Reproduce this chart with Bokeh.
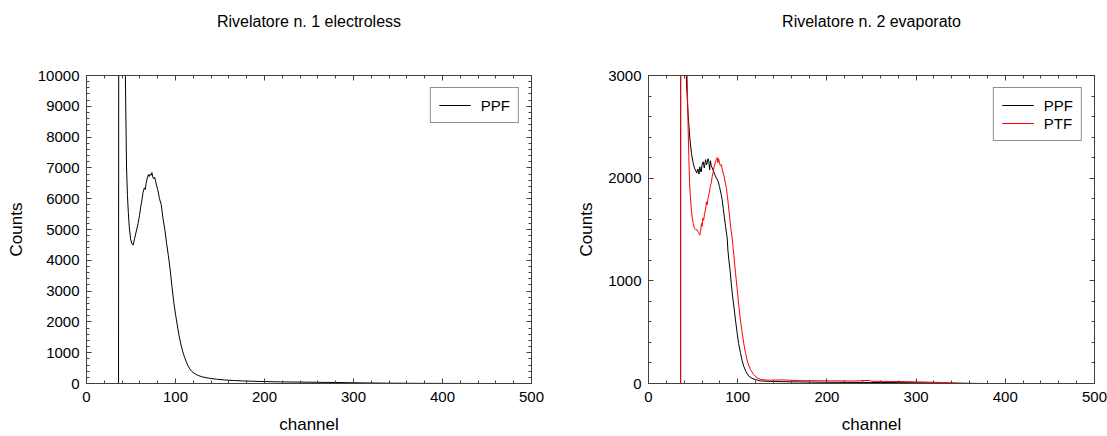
from bokeh.plotting import figure
from bokeh.models import (Range1d, LinearAxis, SingleIntervalTicker, Legend,
                          LegendItem, CustomJSTickFormatter)
from bokeh.layouts import row
from bokeh.embed import file_html
from bokeh.resources import INLINE

# ---------------- data ----------------
# Rivelatore n. 1 electroless - PPF
ch1_ppf = [0, 36, 36.5, 43, 44, 45, 46, 47, 48, 49.5, 51, 52.5, 54, 56, 58, 59.5,
           61, 62, 63.5, 65, 66, 67, 68.5, 69.5, 70.5, 71.5, 72.5, 73.5, 74.5,
           75.5, 76.5, 77.5, 78.5, 80, 82, 84, 86, 88, 90, 92, 94, 96, 98, 100,
           102, 104, 106, 108, 110, 112, 114, 116, 118, 121, 125, 130, 138, 146,
           155, 165, 175, 185, 200, 218, 240, 258, 280, 297, 320, 337, 360, 376,
           400, 420, 450, 500]
cnt1_ppf = [0, 0, 30000, 12000, 9200, 7000, 6100, 5550, 5100, 4700, 4530, 4500,
            4700, 4950, 5200, 5450, 5750, 5900, 6200, 6350, 6300, 6500, 6700,
            6780, 6720, 6800, 6760, 6850, 6700, 6650, 6700, 6600, 6450, 6300,
            6000, 5800, 5350, 5000, 4550, 4150, 3700, 3150, 2650, 2250, 1900,
            1550, 1280, 1050, 870, 710, 580, 475, 400, 330, 265, 215, 170, 140,
            115, 97, 85, 75, 62, 52, 45, 40, 32, 25, 16, 11, 7, 5, 3, 2, 1, 0]

# Rivelatore n. 2 evaporato - PPF
ch2_ppf = [0, 36, 36.5, 42, 43, 44.5, 46.3, 48.2, 50, 51.5, 52.7, 54, 55.3, 56.5,
           57.6, 58.5, 59.1, 60, 61.3, 62.5, 64, 65, 65.8, 66.7, 67.7, 68.5, 69.5,
           70.3, 71.5, 73.3, 74.5, 76.3, 78, 79.5, 81.5, 82.6, 83.8, 85, 86.4,
           88.3, 89, 90, 91.5, 92.7, 94, 95.7, 97.5, 99.4, 101, 103.1, 105, 106.8,
           109, 112.4, 116, 120, 125.5, 137, 169, 200, 249, 290, 328, 350, 380, 500]
cnt2_ppf = [0, 0, 20000, 3100, 2850, 2610, 2390, 2240, 2150, 2100, 2080, 2050,
            2090, 2040, 2110, 2070, 2060, 2130, 2160, 2100, 2180, 2130, 2150, 2190,
            2160, 2080, 2170, 2120, 2100, 2060, 2030, 2000, 1970, 1920, 1840, 1790,
            1705, 1620, 1530, 1410, 1300, 1210, 1100, 980, 870, 750, 620, 490, 390,
            300, 220, 168, 120, 72, 50, 38, 25, 20, 15, 12, 10, 8, 5, 2, 0, 0]

# Rivelatore n. 2 evaporato - PTF
ch2_ptf = [0, 36, 36.2, 42.5, 43.3, 44.5, 45.2, 46, 47.1, 48, 49, 50.2, 51.6, 53,
           54.6, 56, 57.5, 58.5, 59.4, 60.1, 60.9, 61.8, 62.8, 64, 65, 65.8, 66.9,
           68, 69.5, 70.5, 71.5, 72.5, 73.5, 75.1, 76, 77, 77.8, 78.6, 79.6, 80.5,
           81.8, 83, 84.4, 86, 87.4, 88.5, 90, 91.5, 92.7, 93.8, 95.7, 97.5, 99.4,
           101.2, 103, 105, 106.8, 108.7, 111, 114.3, 118, 121.9, 126, 133, 150,
           170, 200, 230, 248, 250, 270, 288, 310, 328, 348, 360, 500]
cnt2_ptf = [0, 0, 20000, 3200, 3000, 2450, 2220, 1950, 1800, 1700, 1610, 1560,
            1510, 1500, 1495, 1470, 1445, 1490, 1560, 1530, 1610, 1590, 1650, 1700,
            1770, 1740, 1810, 1850, 1930, 1960, 2020, 2060, 2110, 2160, 2180, 2200,
            2150, 2190, 2150, 2120, 2130, 2070, 2030, 1960, 1900, 1820, 1700, 1580,
            1480, 1420, 1250, 1080, 920, 760, 620, 495, 390, 300, 210, 136, 85, 55,
            40, 32, 35, 28, 26, 24, 30, 22, 20, 18, 14, 10, 3, 0, 0]

titles = ["Rivelatore n. 1 electroless", "Rivelatore n. 2 evaporato"]
x_label = "channel"
y_label = "Counts"
x_max = 500
y_max = [10000, 3000]

FONT = "Liberation Sans"
FRAME = "#404040"


def style_ticks(ax):
    ax.axis_line_color = FRAME
    ax.major_tick_line_color = FRAME
    ax.minor_tick_line_color = FRAME
    ax.major_tick_in = 5
    ax.major_tick_out = 0
    ax.minor_tick_in = 3
    ax.minor_tick_out = 0


def make_fig(title, width, ymax, border_left, border_right):
    p = figure(width=width, height=436, output_backend="svg",
               toolbar_location=None, x_range=Range1d(0, x_max),
               y_range=Range1d(0, ymax), min_border_left=border_left,
               min_border_right=border_right, min_border_top=75,
               min_border_bottom=52, x_axis_label=x_label,
               y_axis_label=y_label)
    p.xgrid.visible = False
    p.ygrid.visible = False
    p.outline_line_color = FRAME
    p.outline_line_width = 1
    p.background_fill_color = "white"
    p.border_fill_color = "white"

    p.xaxis.ticker = SingleIntervalTicker(interval=100, num_minor_ticks=5)
    p.yaxis.ticker = SingleIntervalTicker(interval=1000, num_minor_ticks=5)
    for ax in (p.xaxis[0], p.yaxis[0]):
        style_ticks(ax)
        ax.major_label_text_font = FONT
        ax.major_label_text_font_size = "15px"
        ax.major_label_text_color = "black"
        ax.axis_label_text_font = FONT
        ax.axis_label_text_font_size = "17px"
        ax.axis_label_text_font_style = "normal"
        ax.axis_label_text_color = "black"
    p.xaxis.major_label_standoff = 8
    p.xaxis.axis_label_standoff = 10
    p.yaxis.major_label_standoff = 7
    p.yaxis.axis_label_standoff = 9

    # top axis: ticks only, carries the chart title
    top = LinearAxis(ticker=SingleIntervalTicker(interval=100, num_minor_ticks=5),
                     formatter=CustomJSTickFormatter(code="return ''"),
                     axis_label=title)
    style_ticks(top)
    top.major_label_standoff = 0
    top.axis_label_standoff = 46
    top.axis_label_text_font = FONT
    top.axis_label_text_font_size = "16px"
    top.axis_label_text_font_style = "normal"
    top.axis_label_text_color = "black"
    p.add_layout(top, "above")

    # right axis: ticks only
    right = LinearAxis(ticker=SingleIntervalTicker(interval=1000, num_minor_ticks=5),
                       formatter=CustomJSTickFormatter(code="return ''"))
    style_ticks(right)
    right.major_label_standoff = 0
    p.add_layout(right, "right")
    return p


def style_legend(leg):
    leg.location = "top_right"
    leg.margin = 12
    leg.padding = 8
    leg.spacing = 0
    leg.glyph_width = 32
    leg.glyph_height = 18
    leg.label_height = 18
    leg.label_standoff = 10
    leg.label_text_font = FONT
    leg.label_text_font_size = "15px"
    leg.label_text_color = "black"
    leg.border_line_color = "#202020"
    leg.border_line_width = 1
    leg.background_fill_color = "white"
    leg.background_fill_alpha = 1


p1 = make_fig(titles[0], 553, y_max[0], 86, 22)
r1 = p1.line(ch1_ppf, cnt1_ppf, line_color="black", line_width=1)
leg1 = Legend(items=[LegendItem(label="PPF", renderers=[r1])])
style_legend(leg1)
p1.add_layout(leg1, "center")

p2 = make_fig(titles[1], 554, y_max[1], 95, 13)
r2a = p2.line(ch2_ppf, cnt2_ppf, line_color="black", line_width=1)
r2b = p2.line(ch2_ptf, cnt2_ptf, line_color="#ff0000", line_width=1)
leg2 = Legend(items=[LegendItem(label="PPF", renderers=[r2a]),
                     LegendItem(label="PTF", renderers=[r2b])])
style_legend(leg2)
p2.add_layout(leg2, "center")

layout = row(p1, p2)
open("out.html", "w").write(file_html(layout, INLINE))
